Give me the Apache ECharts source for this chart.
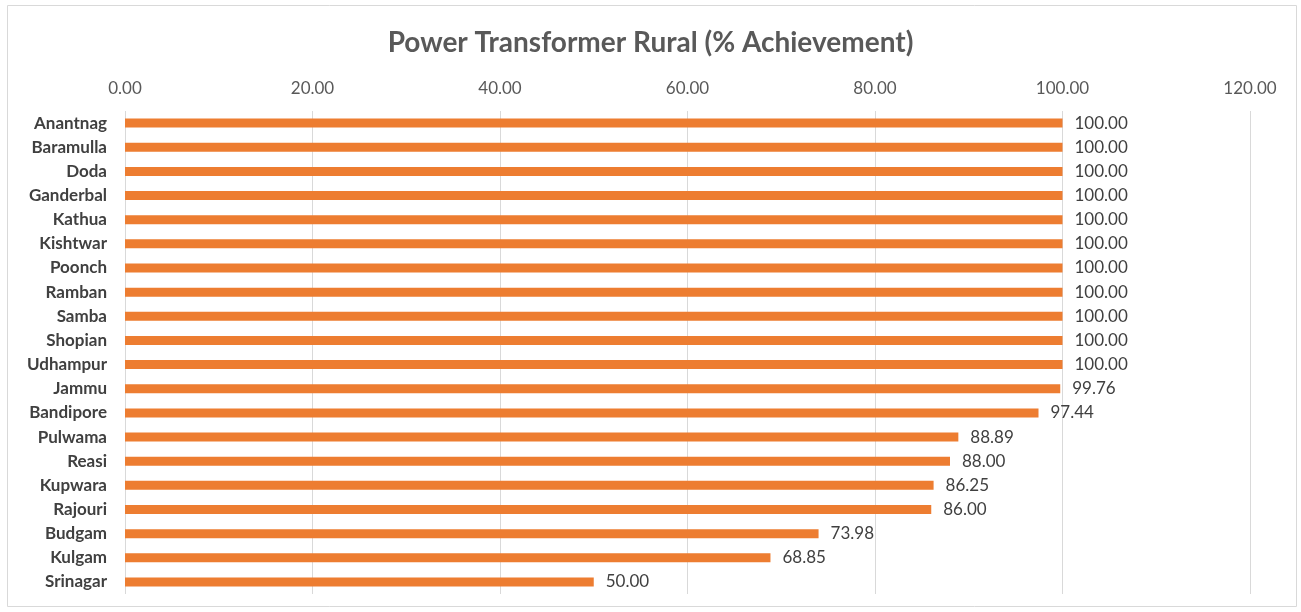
<!DOCTYPE html>
<html>
<head>
<meta charset="utf-8">
<script src="https://cdn.jsdelivr.net/npm/echarts@6/dist/echarts.min.js"></script>
<style>
  html, body { margin: 0; padding: 0; background: #fff; }
  #chart { width: 1301px; height: 612px; }
</style>
</head>
<body>
<div id="chart"></div>
<script>
// 区县
var districts = ["Anantnag", "Baramulla", "Doda", "Ganderbal", "Kathua", "Kishtwar", "Poonch",
  "Ramban", "Samba", "Shopian", "Udhampur", "Jammu", "Bandipore", "Pulwama", "Reasi",
  "Kupwara", "Rajouri", "Budgam", "Kulgam", "Srinagar"];
// 完成率
var achievement = [100, 100, 100, 100, 100, 100, 100, 100, 100, 100, 100, 99.76, 97.44,
  88.89, 88.00, 86.25, 86.00, 73.98, 68.85, 50.00];

var font = "Lato, 'Open Sans', sans-serif";
var myChart = echarts.init(document.getElementById("chart"));
myChart.setOption({
  animation: false,
  title: {
    text: "Power Transformer Rural (% Achievement)",
    left: "center",
    top: 24,
    textStyle: { color: "#595959", fontSize: 28, fontWeight: "bold", fontFamily: font }
  },
  graphic: [{
    type: "rect",
    shape: { x: 7.5, y: 5.5, width: 1289, height: 601 },
    style: { fill: "none", stroke: "#d9d9d9", lineWidth: 1 }
  }],
  grid: { left: 125, right: 51, top: 111, bottom: 18 },
  xAxis: {
    type: "value",
    position: "top",
    min: 0,
    max: 120,
    interval: 20,
    axisLine: { show: false },
    axisTick: { show: false },
    axisLabel: {
      color: "#595959",
      fontSize: 17,
      fontFamily: font,
      margin: 14,
      formatter: function (v) { return v.toFixed(2); }
    },
    splitLine: { show: true, lineStyle: { color: "#d9d9d9", width: 1 } }
  },
  yAxis: {
    type: "category",
    inverse: true,
    data: districts,
    axisLine: { show: false },
    axisTick: { show: false },
    axisLabel: {
      color: "#404040",
      fontSize: 17,
      fontWeight: "bold",
      fontFamily: font,
      margin: 18
    }
  },
  series: [{
    type: "bar",
    data: achievement,
    barWidth: 9,
    itemStyle: { color: "#ED7D31" },
    label: {
      show: true,
      position: "right",
      distance: 12,
      color: "#404040",
      fontSize: 17,
      fontFamily: font,
      formatter: function (p) { return p.value.toFixed(2); }
    }
  }]
});
</script>
</body>
</html>
